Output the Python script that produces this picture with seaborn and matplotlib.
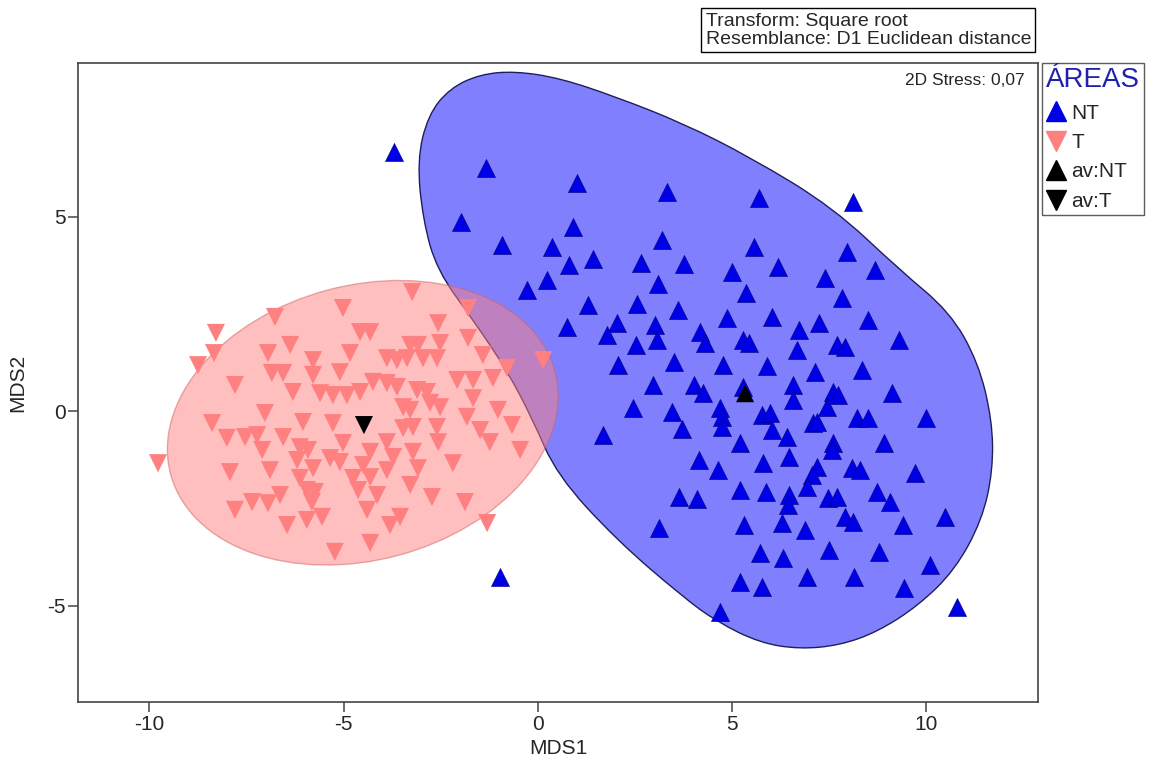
import numpy as np
import pandas as pd
import matplotlib
matplotlib.use("Agg")
import matplotlib.pyplot as plt
from matplotlib.patches import Ellipse, PathPatch
from matplotlib.path import Path
from matplotlib.lines import Line2D
import seaborn as sns

# Coordonnées MDS
nt_x = [-1.34, 1.00, 3.32, -1.98, 0.90, 3.19, -0.93, 0.36, 0.80, 1.42, 2.65, 3.76, 4.99, 0.23, -0.28,
        3.09, 5.35, 1.29, 2.55, 3.60, 5.69, 8.11, 5.56, 7.95, 6.18, 7.39, 8.67, 7.82,
        0.75, 2.03, 1.78, 3.01, 3.06, 4.86, 6.02, 4.17, 4.30, 5.28, 5.43, 6.72, 7.23, 8.49,
        7.70, 7.90, 9.29, 2.52, 6.67, 2.06, 3.50, 4.76, 5.89, 7.13, 8.34, 2.96, 4.02, 4.25,
        5.28, 6.56, 6.56, 7.59, 7.72, 7.44, 9.11, 2.45, 3.45, 4.68, 4.74, 4.74, 5.77, 5.97,
        7.08, 7.18, 8.21, 8.49, 9.99, 1.67, 3.71, 6.02, 6.41, 5.20, 7.59, 7.57, 8.91, 4.14,
        4.63, 5.79, 6.46, 7.18, 7.05, 8.08, 8.29, 9.70, 3.63, 4.09, 5.20, 5.87, 6.46, 6.44,
        6.92, 7.46, 7.70, 8.73, 9.06, 7.90, 8.11, 10.48, 3.11, 5.30, 6.28, 6.87, 9.40, 5.71,
        6.31, 7.49, 8.78, 10.09, 5.20, 5.77, 6.92, 8.13, 9.42, 4.68, 10.79, -3.71, -0.98]
nt_y = [6.25, 5.86, 5.63, 4.86, 4.73, 4.40, 4.27, 4.22, 3.75, 3.91, 3.80, 3.78, 3.57, 3.37, 3.11,
        3.26, 3.03, 2.72, 2.75, 2.60, 5.48, 5.37, 4.22, 4.09, 3.70, 3.42, 3.62, 2.90,
        2.16, 2.26, 1.95, 2.21, 1.83, 2.39, 2.42, 2.03, 1.75, 1.83, 1.75, 2.08, 2.26, 2.34,
        1.70, 1.65, 1.83, 1.70, 1.57, 1.18, 1.26, 1.18, 1.16, 1.00, 1.05, 0.67, 0.67, 0.46,
        0.62, 0.67, 0.28, 0.49, 0.41, 0.10, 0.46, 0.08, -0.03, 0.08, -0.15, -0.41, -0.10, -0.05,
        -0.31, -0.28, -0.18, -0.18, -0.18, -0.62, -0.46, -0.49, -0.67, -0.82, -0.82, -1.00, -0.82, -1.26,
        -1.52, -1.34, -1.18, -1.44, -1.65, -1.47, -1.52, -1.59, -2.21, -2.26, -2.03, -2.08, -2.16, -2.42,
        -1.95, -2.24, -2.21, -2.08, -2.34, -2.72, -2.85, -2.72, -3.01, -2.93, -2.88, -3.06, -2.93, -3.65,
        -3.78, -3.57, -3.62, -3.96, -4.40, -4.52, -4.27, -4.27, -4.55, -5.17, -5.04, 6.66, -4.27]

t_x = [-3.24, -5.02, -6.77, -1.80, -8.29, -2.57, -4.58, -4.32, -6.38, -6.95, -8.34, -8.75, -4.84,
       -5.79, -3.29, -3.09, -2.52, -1.80, -1.42, -3.89, -3.63, -3.37, -2.96, -2.60, -0.80, 0.13,
       -1.16, -6.85, -6.56, -5.79, -5.10, -7.80, -6.31, -5.61, -5.28, -4.92, -4.58, -4.25, -3.89,
       -3.63, -3.11, -2.86, -2.08, -1.67, -1.67, -2.78, -2.52, -3.47, -3.29, -1.03, -7.03, -8.39,
       -6.05, -5.28, -1.83, -0.67, -8.01, -7.54, -7.23, -6.56, -5.02, -3.89, -3.47, -3.22, -2.60,
       -1.49, -1.24, -0.46, -2.57, -7.10, -6.13, -5.92, -5.35, -5.10, -4.32, -3.73, -3.22, -9.78,
       -7.93, -6.90, -6.20, -5.79, -4.50, -3.89, -3.09, -2.19, -4.76, -4.32, -6.13, -5.95, -5.74,
       -3.29, -6.64, -4.63, -4.14, -2.73, -1.88, -7.80, -7.36, -6.95, -5.82, -4.40, -6.46, -5.95,
       -5.56, -3.81, -3.55, -1.31, -5.23, -4.32]
t_y = [3.06, 2.65, 2.42, 2.65, 2.01, 2.26, 2.03, 2.03, 1.70, 1.49, 1.49, 1.18, 1.49,
       1.31, 1.70, 1.70, 1.75, 1.88, 1.44, 1.36, 1.31, 1.36, 1.36, 1.36, 1.11, 1.31,
       0.85, 0.98, 0.98, 0.93, 1.00, 0.67, 0.49, 0.46, 0.41, 0.41, 0.49, 0.75, 0.72,
       0.62, 0.54, 0.49, 0.80, 0.80, 0.33, 0.21, 0.10, 0.10, 0.03, 0.03, -0.05, -0.31,
       -0.28, -0.31, -0.15, -0.36, -0.69, -0.67, -0.62, -0.67, -0.82, -0.80, -0.44, -0.41, -0.41,
       -0.49, -0.80, -1.00, -0.80, -1.00, -0.93, -1.00, -1.21, -1.31, -1.05, -1.18, -1.05, -1.34,
       -1.57, -1.52, -1.26, -1.47, -1.39, -1.52, -1.47, -1.34, -1.72, -1.70, -1.72, -2.03, -2.08,
       -1.90, -2.16, -2.03, -2.16, -2.21, -2.34, -2.54, -2.34, -2.37, -2.34, -2.54, -2.93, -2.80,
       -2.72, -2.93, -2.72, -2.88, -3.62, -3.39]

# Moyennes des groupes
av_nt = (5.33, 0.46)
av_t = (-4.48, -0.36)

# Contour de la zone NT
zone_nt_x = [-3.11, -2.83, -2.27, -1.49, -0.59, 0.57, 2.03, 3.73, 5.46, 7.59, 9.32, 10.60, 11.33,
             11.69, 11.71, 11.43, 10.73, 9.78, 8.73, 7.77, 6.74, 5.71, 4.61, 3.73, 2.03, 0.49,
             -0.13, -0.80, -1.67, -2.60, -2.96]
zone_nt_y = [6.45, 7.61, 8.30, 8.66, 8.74, 8.56, 8.07, 7.40, 6.53, 5.24, 3.62, 2.55, 1.26,
             -0.23, -1.52, -2.80, -4.09, -5.01, -5.68, -6.02, -6.12, -5.96, -5.42, -4.78, -3.32, -1.65,
             -0.23, 1.05, 2.34, 3.62, 4.91]

# Ellipse de la zone T : centre, axes, angle
zone_t_centre = (-4.51, -0.30)
zone_t_axes = (10.24, 7.06)
zone_t_angle = 15

df = pd.DataFrame({
    "MDS1": nt_x + t_x,
    "MDS2": nt_y + t_y,
    "ÁREAS": ["NT"] * len(nt_x) + ["T"] * len(t_x),
})
df_av = pd.DataFrame({"MDS1": [av_nt[0], av_t[0]], "MDS2": [av_nt[1], av_t[1]],
                      "ÁREAS": ["av:NT", "av:T"]})

sns.set_style("white")
plt.rcParams["font.family"] = ["Liberation Sans", "DejaVu Sans"]
plt.rcParams["axes.unicode_minus"] = False

bleu = "#0000e6"
rose = "#ff8080"

fig = plt.figure(figsize=(11.55, 7.69), dpi=100)
ax = fig.add_axes([78 / 1155, 1 - 702 / 769, 960 / 1155, 639 / 769])

# Zone NT (courbe lissée passant par les milieux)
pts = np.column_stack([zone_nt_x, zone_nt_y])
mids = (pts + np.roll(pts, -1, axis=0)) / 2
verts = [mids[-1]]
codes = [Path.MOVETO]
for i in range(len(pts)):
    verts += [pts[i], mids[i]]
    codes += [Path.CURVE3, Path.CURVE3]
ax.add_patch(PathPatch(Path(verts, codes), facecolor="#8080ff", edgecolor="#1e1e5a", lw=1.0, zorder=1))

# Zone T
ax.add_patch(Ellipse(zone_t_centre, zone_t_axes[0], zone_t_axes[1], angle=zone_t_angle,
                     facecolor=rose, alpha=0.5, edgecolor="#d06060", lw=1.0, zorder=2))

sns.scatterplot(data=df[df["ÁREAS"] == "NT"], x="MDS1", y="MDS2", marker="^", color=bleu,
                edgecolor="#00007a", linewidth=0.4, s=170, ax=ax, zorder=3, legend=False)
sns.scatterplot(data=df[df["ÁREAS"] == "T"], x="MDS1", y="MDS2", marker="v", color=rose,
                edgecolor="none", s=170, ax=ax, zorder=3, legend=False)
sns.scatterplot(data=df_av, x="MDS1", y="MDS2", style="ÁREAS", markers={"av:NT": "^", "av:T": "v"},
                color="black", edgecolor="none", s=170, ax=ax, zorder=4, legend=False)

ax.set_xlim(-11.84, 12.87)
ax.set_ylim(-7.48, 8.95)
ax.set_xticks([-10, -5, 0, 5, 10])
ax.set_yticks([-5, 0, 5])
ax.tick_params(direction="out", length=7, width=1.1, color="#444444", labelsize=15, pad=2,
               bottom=True, left=True)
for sp in ax.spines.values():
    sp.set_color("#444444")
    sp.set_linewidth(1.2)
ax.set_xlabel("MDS1", fontsize=15, labelpad=4)
ax.set_ylabel("MDS2", fontsize=15, labelpad=14)

ax.text(0.986, 0.985, "2D Stress: 0,07", transform=ax.transAxes, ha="right", va="top", fontsize=12.5)

fig.text(1031 / 1155, 1 - 48 / 769, "Transform: Square root\nResemblance: D1 Euclidean distance",
         ha="right", va="bottom", multialignment="left", fontsize=14, linespacing=1.1,
         bbox=dict(boxstyle="square,pad=0.22", facecolor="white", edgecolor="black", lw=1))

handles = [
    Line2D([], [], marker="^", ls="", color=bleu, markersize=14),
    Line2D([], [], marker="v", ls="", color=rose, markersize=14),
    Line2D([], [], marker="^", ls="", color="black", markersize=14),
    Line2D([], [], marker="v", ls="", color="black", markersize=14),
]
leg = fig.legend(handles, ["NT", "T", "av:NT", "av:T"], loc="upper left",
                 bbox_to_anchor=(1042 / 1155, 1 - 63 / 769), title="ÁREAS", title_fontsize=20,
                 fontsize=15, alignment="left", frameon=True, fancybox=False, edgecolor="#333333",
                 borderaxespad=0, borderpad=0.2, handlelength=0.9, handletextpad=0.3,
                 labelspacing=0.5)
leg.get_title().set_color("#2020b0")
leg.get_frame().set_linewidth(1.0)

fig.savefig("out.png", dpi=100)
